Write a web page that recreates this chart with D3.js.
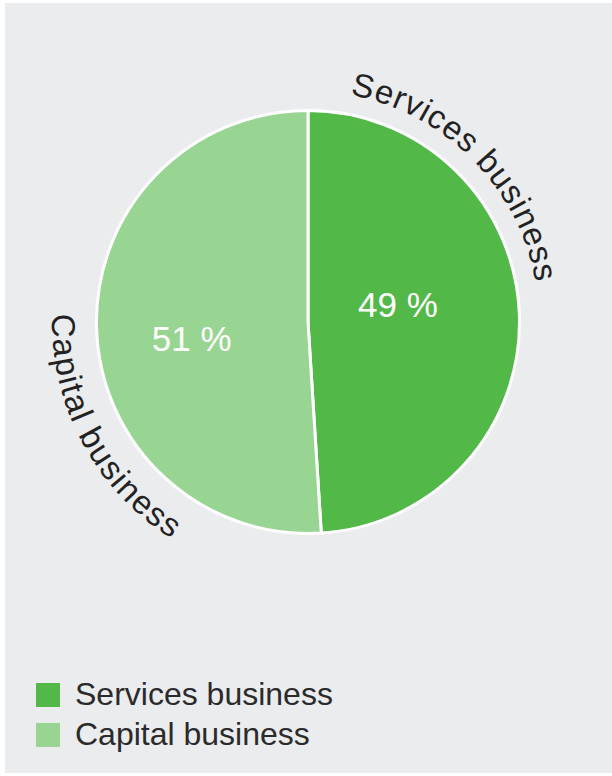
<!DOCTYPE html>
<html>
<head>
<meta charset="utf-8">
<script src="https://cdn.jsdelivr.net/npm/d3@7"></script>
<style>
  html, body { margin: 0; padding: 0; background: #ffffff; }
  svg { display: block; }
  text { font-family: "Liberation Sans", Arial, Helvetica, sans-serif; }
</style>
</head>
<body>
<svg id="chart" width="612" height="776"></svg>
<script>
// Revenue split by business
const categories = ["Services business", "Capital business"];
const shares = [49, 51];
const shareLabels = ["49 %", "51 %"];
const sliceColors = ["#52b848", "#98d492"];

const W = 612, H = 776;
const cx = 308, cy = 322, R = 211.5;

const svg = d3.select("#chart");

// panel background
svg.append("rect")
  .attr("x", 5).attr("y", 3)
  .attr("width", W - 5).attr("height", 770)
  .attr("fill", "#ebecee");

const color = d3.scaleOrdinal().domain(categories).range(sliceColors);

const pie = d3.pie().sort(null).value(d => d.value)
  .startAngle(0).endAngle(2 * Math.PI);

const data = categories.map((c, i) => ({ name: c, value: shares[i], label: shareLabels[i] }));
const arcs = pie(data);

const arc = d3.arc().innerRadius(0).outerRadius(R);

const g = svg.append("g").attr("transform", `translate(${cx},${cy})`);

g.selectAll("path.slice")
  .data(arcs)
  .enter().append("path")
  .attr("class", "slice")
  .attr("d", arc)
  .attr("fill", d => color(d.data.name))
  .attr("stroke", "#ffffff")
  .attr("stroke-width", 3)
  .attr("stroke-linejoin", "round");

// percentage labels inside the slices
const deg = Math.PI / 180;
const pctPlacement = [
  { shift: -9.2 * deg, radius: 91.7 },
  { shift: -6.6 * deg, radius: 117.6 }
];
g.selectAll("text.pct")
  .data(arcs)
  .enter().append("text")
  .attr("class", "pct")
  .attr("transform", (d, i) => {
    const mid = (d.startAngle + d.endAngle) / 2 + pctPlacement[i].shift;
    const p = d3.pointRadial(mid, pctPlacement[i].radius);
    return `translate(${p[0]},${p[1]})`;
  })
  .attr("dy", "0.35em")
  .attr("text-anchor", "middle")
  .attr("fill", "#ffffff")
  .attr("font-size", 35)
  .text(d => d.data.label);

// curved category labels following the rim
function rimPath(r, a0, a1) {
  const p0 = d3.pointRadial(a0, r), p1 = d3.pointRadial(a1, r);
  const large = Math.abs(a1 - a0) > Math.PI ? 1 : 0;
  const sweep = a1 > a0 ? 1 : 0;
  return `M${p0[0]},${p0[1]}A${r},${r} 0 ${large} ${sweep} ${p1[0]},${p1[1]}`;
}

const rimPlacement = [
  { radius: 231, offset: 10.5 * deg, dir: 1, spacing: 0.9 },    // reads clockwise, baseline inside
  { radius: 256, offset: 95.4 * deg, dir: -1, spacing: 1.6 }    // reads anticlockwise, baseline outside
];

const defs = svg.append("defs");
arcs.forEach((d, i) => {
  const pl = rimPlacement[i];
  const a0 = d.startAngle + pl.offset;
  const a1 = a0 + pl.dir * 150 * deg;
  defs.append("path")
    .attr("id", "rim" + i)
    .attr("d", rimPath(pl.radius, a0, a1))
    .attr("transform", `translate(${cx},${cy})`);
});

svg.selectAll("text.rim")
  .data(arcs)
  .enter().append("text")
  .attr("class", "rim")
  .attr("font-size", 33)
  .attr("letter-spacing", (d, i) => rimPlacement[i].spacing)
  .attr("fill", "#222222")
  .append("textPath")
  .attr("href", (d, i) => "#rim" + i)
  .attr("startOffset", 0)
  .text(d => d.data.name);

// legend
const legend = svg.append("g").attr("transform", "translate(36,683)");
const item = legend.selectAll("g.item")
  .data(categories)
  .enter().append("g")
  .attr("class", "item")
  .attr("transform", (d, i) => `translate(0,${i * 40})`);
item.append("rect")
  .attr("width", 24).attr("height", 24)
  .attr("fill", d => color(d));
item.append("text")
  .attr("x", 39).attr("y", 22)
  .attr("font-size", 32)
  .attr("fill", "#2b2b2b")
  .text(d => d);
</script>
</body>
</html>
